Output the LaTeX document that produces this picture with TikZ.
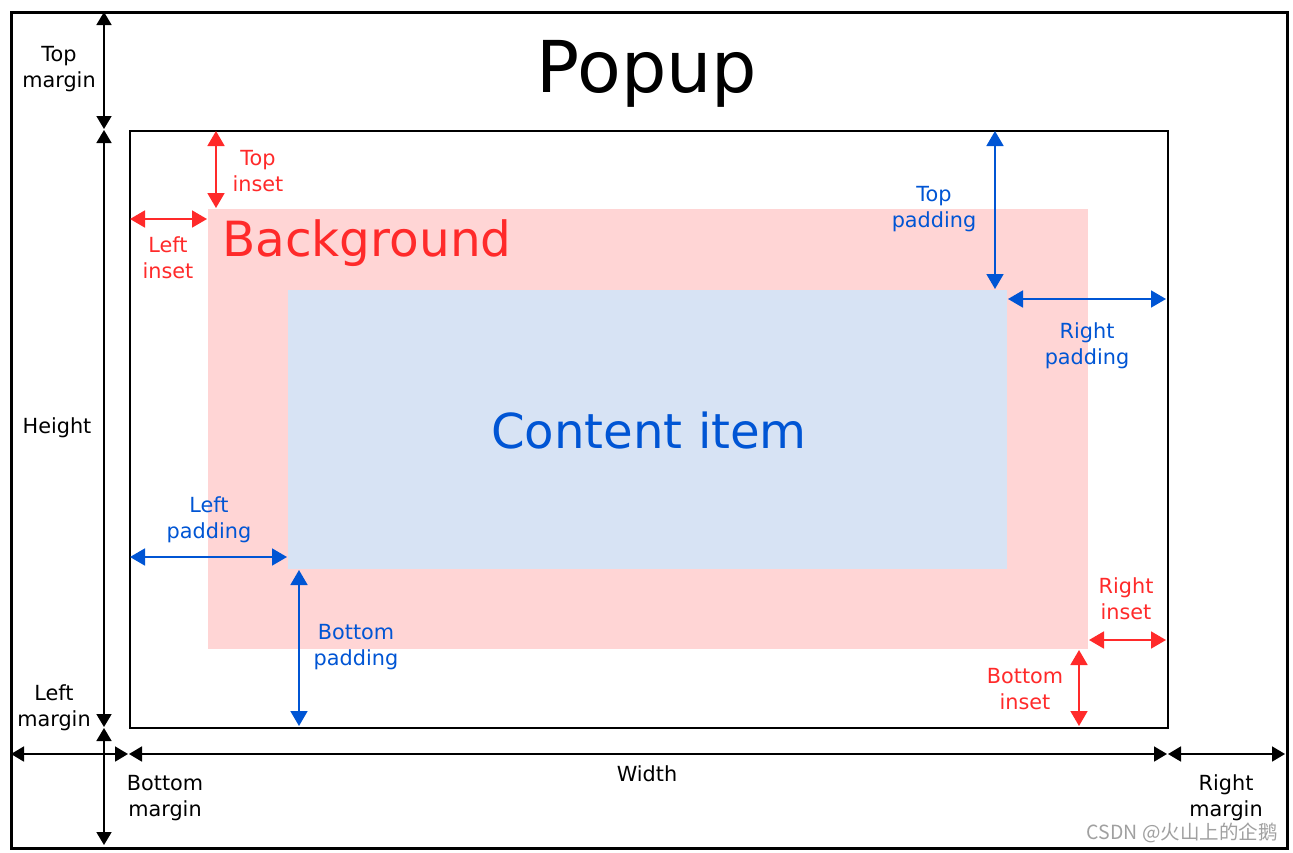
\documentclass[tikz,border=0pt]{standalone}
\usepackage{fontspec}
\setmainfont{DejaVu Sans}
\newfontfamily\cjk{Noto Sans CJK SC}
\usetikzlibrary{arrows.meta}
\definecolor{insetred}{HTML}{FF2A2A}
\definecolor{padblue}{HTML}{0055D4}
\definecolor{bgpink}{HTML}{FFD5D5}
\definecolor{contentblue}{HTML}{D7E3F4}
\definecolor{wmgrey}{HTML}{A0A0A0}
\tikzset{
  dimarrow/.style={line width=1.8pt, {Triangle[length=13pt,width=15pt]}-{Triangle[length=13pt,width=15pt]}},
  colarrow/.style={line width=1.8pt, {Triangle[length=15pt,width=17pt]}-{Triangle[length=15pt,width=17pt]}},
  lbl/.style={align=center, inner sep=0pt, font=\fontsize{20.8}{26}\selectfont},
  big/.style={inner sep=0pt}
}
\begin{document}
\begin{tikzpicture}[x=1pt,y=-1pt]
\useasboundingbox (0,0) rectangle (1293,852);
\fill[white] (0,0) rectangle (1293,852);
% boxes
\node[draw=black, line width=2.6pt, minimum width=1276pt, minimum height=836pt, anchor=north west, inner sep=0pt] (popup) at (10,11) {};
\fill[bgpink] (208,209) rectangle (1088,649);
\fill[contentblue] (288,290) rectangle (1007,569);
\node[draw=black, line width=2pt, minimum width=1038pt, minimum height=597pt, anchor=north west, inner sep=0pt] (item) at (129,130) {};
% titles
\node[big, font=\fontsize{71.5}{80}\selectfont] (ptitle) at (647,74) {Popup};
\node[big, font=\fontsize{48.5}{56}\selectfont, text=insetred, anchor=west] (bgtitle) at (222,243) {Background};
\node[big, font=\fontsize{48.2}{56}\selectfont, text=padblue] (ctitle) at (649,431) {Content item};
% coordinates
\coordinate (tm1) at (104,12);   \coordinate (tm2) at (104,129);
\coordinate (h1) at (104,130);   \coordinate (h2) at (104,727);
\coordinate (bm1) at (104,728);  \coordinate (bm2) at (104,845);
\coordinate (lm1) at (11,754);   \coordinate (lm2) at (128,754);
\coordinate (w1) at (129,754);   \coordinate (w2) at (1167,754);
\coordinate (rm1) at (1168,754); \coordinate (rm2) at (1285,754);
\coordinate (ti1) at (216,131);  \coordinate (ti2) at (216,208);
\coordinate (li1) at (130,219);  \coordinate (li2) at (207,219);
\coordinate (ri1) at (1089,640); \coordinate (ri2) at (1166,640);
\coordinate (bi1) at (1079,650); \coordinate (bi2) at (1079,726);
\coordinate (tp1) at (995,131);  \coordinate (tp2) at (995,289);
\coordinate (rp1) at (1008,299); \coordinate (rp2) at (1166,299);
\coordinate (lp1) at (130,557);  \coordinate (lp2) at (287,557);
\coordinate (bp1) at (299,570);  \coordinate (bp2) at (299,726);
% black dimensions
\draw[dimarrow] (tm1) -- (tm2);
\draw[dimarrow] (h1) -- (h2);
\draw[dimarrow] (bm1) -- (bm2);
\draw[dimarrow] (lm1) -- (lm2);
\draw[dimarrow] (w1) -- (w2);
\draw[dimarrow] (rm1) -- (rm2);
% red insets
\draw[colarrow, insetred] (ti1) -- (ti2);
\draw[colarrow, insetred] (li1) -- (li2);
\draw[colarrow, insetred] (ri1) -- (ri2);
\draw[colarrow, insetred] (bi1) -- (bi2);
% blue paddings
\draw[colarrow, padblue] (tp1) -- (tp2);
\draw[colarrow, padblue] (rp1) -- (rp2);
\draw[colarrow, padblue] (lp1) -- (lp2);
\draw[colarrow, padblue] (bp1) -- (bp2);
% labels
\node[lbl] (ltm) at (59,69) {Top\\margin};
\node[lbl] (lh) at (57,428) {Height};
\node[lbl] (llm) at (54,708) {Left\\margin};
\node[lbl] (lbm) at (165,798) {Bottom\\margin};
\node[lbl] (lw) at (647,774) {Width};
\node[lbl] (lrm) at (1226,798) {Right\\margin};
\node[lbl, text=insetred] (lti) at (258,171) {Top\\inset};
\node[lbl, text=insetred] (lli) at (168,258) {Left\\inset};
\node[lbl, text=insetred] (lri) at (1126,599) {Right\\inset};
\node[lbl, text=insetred] (lbi) at (1025,689) {Bottom\\inset};
\node[lbl, text=padblue] (ltp) at (934,209) {Top\\padding};
\node[lbl, text=padblue] (lrp) at (1087,346) {Right\\padding};
\node[lbl, text=padblue] (llp) at (209,520) {Left\\padding};
\node[lbl, text=padblue] (lbp) at (356,647) {Bottom\\padding};
% watermark
\node[inner sep=0pt, anchor=east, text=wmgrey, font=\cjk\fontsize{19.5}{22}\selectfont] (wm) at (1278,833) {CSDN @火山上的企鹅};
\end{tikzpicture}
\end{document}
